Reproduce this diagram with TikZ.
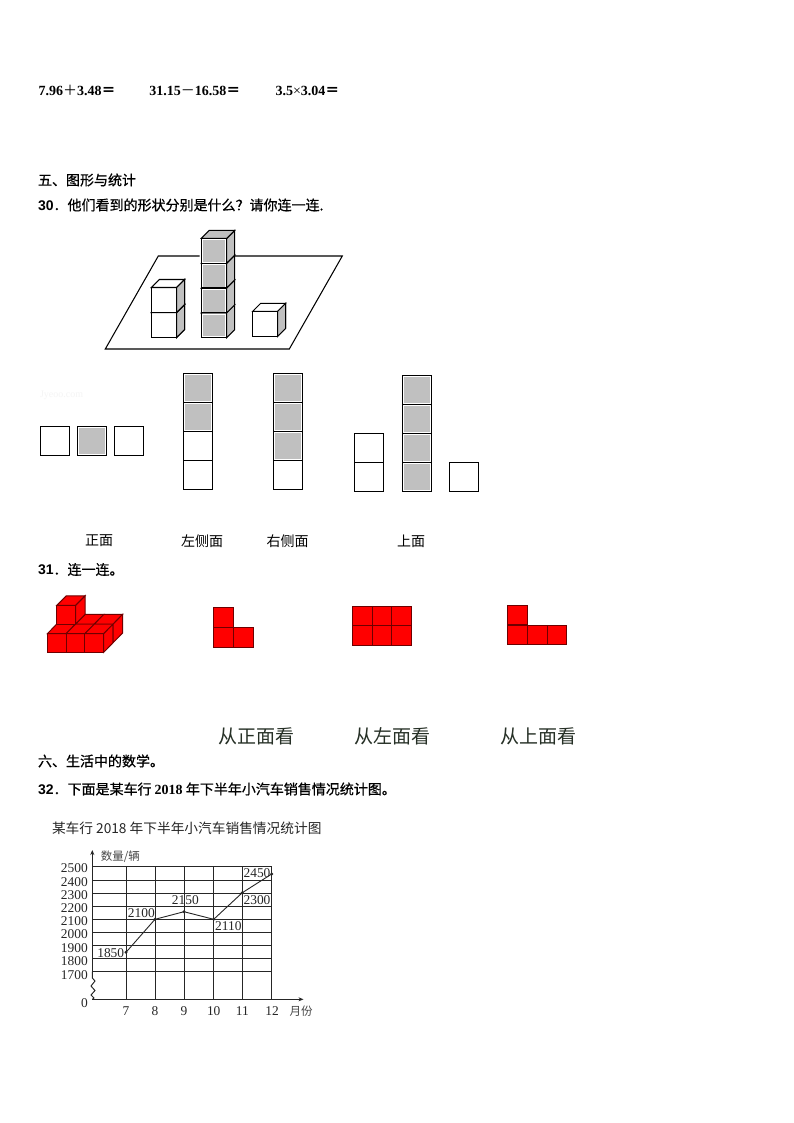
\documentclass[tikz,border=0pt]{standalone}
\usepackage{fontspec}
\setmainfont{Liberation Serif}
\newfontfamily\cjk{Noto Sans CJK SC}
\newfontfamily\cjkb[FakeBold=0.7]{Noto Sans CJK SC}
\newfontfamily\sansf{Liberation Sans}
\usetikzlibrary{arrows.meta,calc}
\definecolor{cubegray}{HTML}{C0C0C0}
\definecolor{chartink}{HTML}{262626}
\definecolor{viewink}{HTML}{263026}
\definecolor{reddark}{HTML}{6E0000}
\newcommand{\qn}[1]{{\sansf\bfseries #1}}
\newcommand{\yr}[1]{{\rmfamily\bfseries #1}}
\tikzset{
  every node/.style={inner sep=0pt,outer sep=0pt},
  lineL/.style={anchor=west,font=\cjkb\fontsize{14}{14}\selectfont},
  mathL/.style={anchor=base west,font=\bfseries\fontsize{14}{14}\selectfont},
  viewL/.style={font=\cjk\fontsize{14}{14}\selectfont},
  bigL/.style={font=\cjk\fontsize{19}{19}\selectfont,text=viewink},
  wire/.style={line width=1.05pt,black},
  gface/.style={draw=black,line width=1.05pt,fill=cubegray},
  wface/.style={draw=black,line width=1.05pt,fill=white},
  rface/.style={draw=reddark,line width=0.95pt,fill=red},
  grid/.style={line width=0.95pt,chartink},
  numL/.style={font=\fontsize{13.4}{13.4}\selectfont,text=chartink},
  unitL/.style={font=\cjk\fontsize{11.5}{11.5}\selectfont,text=chartink!85}
}
% front-left-bottom x, bottom y, width, height, depth, fill style
\newcommand{\cubeAt}[6]{%
  \path[#6] (#1,#2) rectangle ++(#3,-#4);
  \path[#6] (#1+#3,#2) -- ++(#5,-#5) -- ++(0,-#4) -- ++(-#5,#5) -- cycle;
  \path[#6] (#1,#2-#4) -- ++(#5,-#5) -- ++(#3,0) -- ++(-#5,#5) -- cycle;
}
\newcommand{\sq}[5]{\path[#5] (#1,#2) rectangle (#3,#4);}
\begin{document}
\begin{tikzpicture}[x=1pt,y=-1pt]
\useasboundingbox (0,0) rectangle (794,1123);
\fill[white] (0,0) rectangle (794,1123);

% --- top text
\node[mathL] (m1) at (38.5,95.5) {7.96{\cjk\mdseries ＋}3.48{\cjk ＝}};
\node[mathL] (m2) at (149.3,95.5) {31.15{\cjk\mdseries －}16.58{\cjk ＝}};
\node[mathL] (m3) at (275.5,95.5) {3.5{\mdseries ×}3.04{\cjk ＝}};
\node[lineL] (h5) at (38,180) {五、图形与统计};
\node[lineL] (q30) at (38,205) {\qn{30}．他们看到的形状分别是什么？请你连一连.};

% --- plane and stacks
\coordinate (pa) at (199.7,256);
\coordinate (pb) at (158.3,256);
\coordinate (pc) at (105.3,349);
\coordinate (pd) at (289.3,349);
\coordinate (pe) at (342.3,256);
\coordinate (pf) at (234.7,256);
\draw[wire] (pa) -- (pb) -- (pc) -- (pd) -- (pe) -- (pf);

\cubeAt{151.3}{337.5}{25.4}{25}{8}{wface}
\path[gface] (176.7,337.5) -- ++(8,-8) -- ++(0,-25) -- ++(-8,8) -- cycle;
\cubeAt{151.3}{312.5}{25.4}{25}{8}{wface}
\path[gface] (176.7,312.5) -- ++(8,-8) -- ++(0,-25) -- ++(-8,8) -- cycle;

\foreach \yy in {337.6,312.8,288,263.2}{
  \cubeAt{201.3}{\yy}{25.4}{24.8}{8}{gface}
  \path[draw=white,line width=0.6pt] (202.3,\yy-1) rectangle (225.7,\yy-23.8);
}
\path[draw=black,line width=1.05pt] (201.3,238.4) rectangle (226.7,337.6);
\foreach \yy in {312.8,288,263.2}{\draw[wire] (201.3,\yy) -- (226.7,\yy);}

\cubeAt{252.7}{336.3}{25}{25}{8}{wface}
\path[gface] (277.7,336.3) -- ++(8,-8) -- ++(0,-25) -- ++(-8,8) -- cycle;

% --- answer shapes
\node[anchor=west,font=\fontsize{10}{10}\selectfont,text=black!4] (wm) at (40,395) {Jyeoo.com};
\foreach \xa in {40.3,114.3}{\sq{\xa}{426.3}{\xa+29}{455.3}{wface}}
\sq{77.3}{426.3}{106.3}{455.3}{gface}
\path[draw=white,line width=0.6pt] (78.3,427.3) rectangle (105.3,454.3);
\foreach \xa/\ya/\st in {183.3/373.7/gface,183.3/402.7/gface,183.3/431.5/wface,183.3/460.4/wface,
  273.3/373.7/gface,273.3/402.7/gface,273.3/431.5/gface,273.3/460.4/wface,
  354.3/433.3/wface,354.3/462.3/wface,
  402.3/375.7/gface,402.3/404.7/gface,402.3/433.5/gface,402.3/462.3/gface,
  449.3/462.3/wface}{
  \sq{\xa}{\ya}{\xa+29}{\ya+29}{\st}
}
\foreach \xa/\ya in {183.3/373.7,183.3/402.7,273.3/373.7,273.3/402.7,273.3/431.5,
  402.3/375.7,402.3/404.7,402.3/433.5,402.3/462.3}{
  \draw[white,line width=0.6pt] (\xa+1,\ya+1) rectangle (\xa+28,\ya+28);
}
\node[viewL] (v1) at (99,541) {正面};
\node[viewL] (v2) at (202,541) {左侧面};
\node[viewL] (v3) at (287.5,541) {右侧面};
\node[viewL] (v4) at (411,541) {上面};

% --- question 31
\node[lineL] (q31) at (38,569.5) {\qn{31}．连一连。};

% red solid: base
\foreach \i in {0,1,2}{
  \pgfmathsetmacro\xa{47.3+18.8*\i}
  \sq{\xa}{633.7}{\xa+18.8}{652.3}{rface}
  % top faces, front and back rows
  \path[rface] (\xa,633.7) -- ++(9.5,-9.7) -- ++(18.8,0) -- ++(-9.5,9.7) -- cycle;
  \path[rface] (\xa+9.5,624) -- ++(9.5,-9.7) -- ++(18.8,0) -- ++(-9.5,9.7) -- cycle;
}
\path[rface] (103.7,652.3) -- ++(9.5,-9.7) -- ++(0,-18.6) -- ++(-9.5,9.7) -- cycle;
\path[rface] (113.2,642.6) -- ++(9.5,-9.7) -- ++(0,-18.6) -- ++(-9.5,9.7) -- cycle;
% upper cube
\cubeAt{56.8}{624}{18.8}{18.7}{9.5}{rface}

\foreach \xa/\ya in {213.7/607,213.7/627,233.7/627}{\sq{\xa}{\ya}{\xa+20}{\ya+20}{rface}}
\foreach \xa in {352.7,372.3,391.8}{\foreach \ya in {606,625.6}{\sq{\xa}{\ya}{\xa+19.6}{\ya+19.7}{rface}}}
\foreach \xa/\ya in {507.7/605,507.7/625,527.3/625,547/625}{\sq{\xa}{\ya}{\xa+19.7}{\ya+19.8}{rface}}

\node[bigL] (b1) at (256,736) {从正面看};
\node[bigL] (b2) at (392,736) {从左面看};
\node[bigL] (b3) at (538,736) {从上面看};

\node[lineL] (h6) at (38,761) {六、生活中的数学。};
\node[lineL] (q32) at (38,789) {\qn{32}．下面是某车行 \yr{2018} 年下半年小汽车销售情况统计图。};

% --- chart
\node[anchor=west,font=\cjk\fontsize{13.7}{13.7}\selectfont,text=chartink] (ct) at (52,828.5) {某车行 2018 年下半年小汽车销售情况统计图};
\foreach \yy in {866.7,880,893.3,906.3,919.3,932.3,945.3,958.7,971.7}{\draw[grid] (92.3,\yy) -- (271.7,\yy);}
\foreach \xx in {126,155,184,213.7,242.3,271.7}{\draw[grid] (\xx,866.7) -- (\xx,999.3);}
\coordinate (o) at (92.3,999.3);
\coordinate (yt) at (92.3,850);
\coordinate (xt) at (303.5,999.3);
\coordinate (brk) at (92.3,978);
\draw[grid,-{Stealth[length=5pt,width=4pt]}] (92.3,971.7) -- (yt);
\draw[grid,-{Stealth[length=5pt,width=4pt]}] (o) -- (xt);
\draw[grid] (92.3,971.7) -- (brk) -- (95,981) -- (91,986) -- (95,990.5) -- (91,995) -- (94,998) -- (o);
\coordinate (d7) at (126,952.3);
\coordinate (d8) at (155,919.3);
\coordinate (d9) at (184,911.7);
\coordinate (d10) at (213.7,919.3);
\coordinate (d11) at (242.3,892.7);
\coordinate (d12) at (271.7,874);
\draw[line width=0.9pt,chartink] (d7) -- (d8) -- (d9) -- (d10) -- (d11) -- (d12);
\foreach \p in {d7,d8,d9,d10,d11,d12}{\fill[chartink] (\p) circle (1.6pt);}
\foreach \v/\yy in {2500/868.3,2400/882,2300/895,2200/908,2100/921,2000/934,1900/948.3,1800/961,1700/974.7}{
  \node[numL,anchor=east] (y\v) at (87.7,\yy) {\v};
}
\node[numL,anchor=east] (y0) at (87.7,1002.7) {0};
\foreach \v/\xx in {7/126,8/155,9/184,10/213.7,11/242.3,12/272}{
  \node[numL] (x\v) at (\xx,1011) {\v};
}
\node[unitL] (xu) at (301,1011) {月份};
\node[unitL] (yu) at (120.3,856.7) {数量/辆};
\node[numL] (l1) at (110.7,952.7) {1850};
\node[numL] (l2) at (141.3,912.7) {2100};
\node[numL] (l3) at (185.3,899.7) {2150};
\node[numL] (l4) at (228.3,926.3) {2110};
\node[numL] (l5) at (257,900) {2300};
\node[numL] (l6) at (257,873) {2450};
\end{tikzpicture}
\end{document}
